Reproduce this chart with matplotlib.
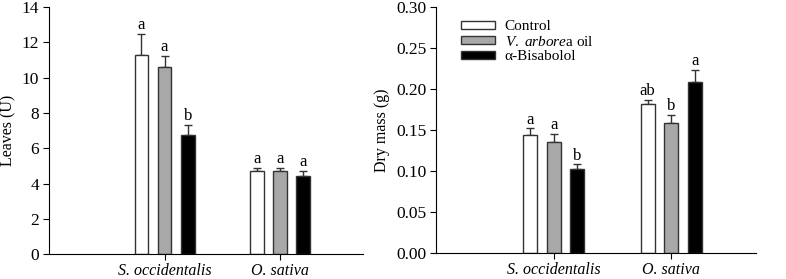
import numpy as np
import matplotlib
matplotlib.use('Agg')
import matplotlib.pyplot as plt

plt.rcParams['font.family'] = ['Liberation Serif', 'DejaVu Serif']
plt.rcParams['mathtext.fontset'] = 'custom'
plt.rcParams['mathtext.rm'] = 'Liberation Serif'
plt.rcParams['mathtext.it'] = 'Liberation Serif:italic'

##### Data #####
species = ['S. occidentalis', 'O. sativa']
treatments = ['Control', r'$\it{V.\ arbore}$a oil', 'α-Bisabolol']
colors = ['white', '#a8a8a8', 'black']

leaves_mean = [[11.3, 4.70], [10.6, 4.70], [6.74, 4.42]]
leaves_err = [[1.17, 0.19], [0.62, 0.19], [0.60, 0.28]]
leaves_letters = [['a', 'a'], ['a', 'a'], ['b', 'a']]

mass_mean = [[0.144, 0.182], [0.135, 0.1585], [0.103, 0.209]]
mass_err = [[0.008, 0.005], [0.0105, 0.010], [0.005, 0.014]]
mass_letters = [['a', 'ab'], ['a', 'b'], ['b', 'a']]


def bar_panel(ax, means, errs, letters, ymax, step, fmt, ylabel, pad):
    '''
    Draws grouped bars with upward error bars and significance letters
    '''
    x = np.arange(1, len(species) + 1)
    width = 0.12
    offsets = [-0.2, 0, 0.2]
    for i in range(len(treatments)):
        ax.bar(x + offsets[i], means[i], width, color=colors[i],
               edgecolor='#333333', linewidth=1, label=treatments[i], zorder=2)
        ax.errorbar(x + offsets[i], means[i], yerr=[np.zeros(len(x)), errs[i]],
                    fmt='none', ecolor='#333333', elinewidth=1, capsize=3,
                    capthick=1, zorder=1)
        for j in range(len(x)):
            ax.text(x[j] + offsets[i], means[i][j] + errs[i][j] + pad,
                    letters[i][j], ha='center', va='bottom', fontsize=12)
    ax.set_xlim(0, 2.72)
    ax.set_ylim(0, ymax)
    ticks = np.arange(0, ymax + step / 2, step)
    ax.set_yticks(ticks)
    ax.set_yticklabels([fmt.format(t) for t in ticks], fontsize=12.5)
    ax.set_xticks(x)
    ax.set_xticklabels(species, fontstyle='italic', fontsize=11.5)
    ax.tick_params(axis='x', length=4, pad=2.5)
    ax.tick_params(axis='y', length=4, pad=3)
    ax.spines['top'].set_visible(False)
    ax.spines['right'].set_visible(False)
    ax.set_ylabel(ylabel, fontsize=11.5, labelpad=4)


fig = plt.figure(figsize=(7.86, 2.79), dpi=100)
ax1 = fig.add_axes([0.0623, 0.088, 0.40, 0.887])
ax2 = fig.add_axes([0.5547, 0.093, 0.407, 0.882])

bar_panel(ax1, leaves_mean, leaves_err, leaves_letters, 14, 2, '{:.0f}',
          'Leaves (U)', 0.05)
bar_panel(ax2, mass_mean, mass_err, mass_letters, 0.30, 0.05, '{:.2f}',
          'Dry mass (g)', 0.001)

ax2.legend(loc='upper left', bbox_to_anchor=(0.045, 0.99), frameon=False,
           fontsize=11, handlelength=2.2, handleheight=0.45,
           labelspacing=0.1, handletextpad=0.65, borderpad=0.2)

fig.savefig('out.png', dpi=100)
